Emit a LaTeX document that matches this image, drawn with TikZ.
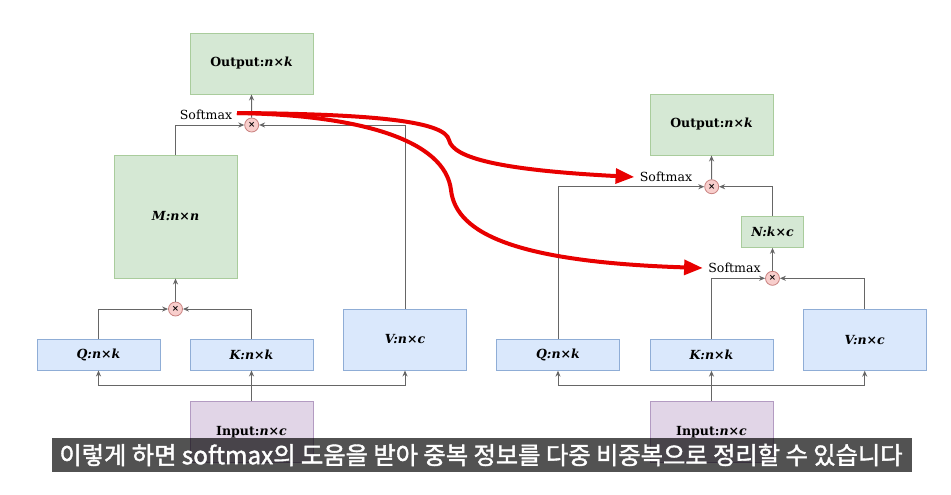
\documentclass[tikz,border=0pt]{standalone}
\usepackage{fontspec}
\usetikzlibrary{arrows.meta, positioning}
\setmainfont{DejaVu Serif}
\newfontfamily\krfont[FakeBold=1.6]{Noto Sans CJK KR}
\definecolor{attnGreenFill}{HTML}{D5E8D4}
\definecolor{attnGreenLine}{HTML}{A9CC9C}
\definecolor{attnBlueFill}{HTML}{DAE8FC}
\definecolor{attnBlueLine}{HTML}{8FADD6}
\definecolor{attnPurpleFill}{HTML}{E1D5E7}
\definecolor{attnPurpleLine}{HTML}{B39BC2}
\definecolor{attnRedFill}{HTML}{F8CECC}
\definecolor{attnRedLine}{HTML}{C98280}
\definecolor{attnWire}{HTML}{666666}
\definecolor{penRed}{HTML}{E80000}
\tikzset{
    attnBlock/.style={
        draw, line width=0.7pt, inner sep=0pt, align=center, font=\fontsize{9.4}{11}\selectfont\bfseries
    },
    attnGreen/.style={
        attnBlock, draw=attnGreenLine, fill=attnGreenFill
    },
    attnBlue/.style={
        attnBlock, draw=attnBlueLine, fill=attnBlueFill
    },
    attnPurple/.style={
        attnBlock, draw=attnPurpleLine, fill=attnPurpleFill
    },
    wideBox/.style={minimum width=92.25pt, minimum height=45.75pt},
    tallBox/.style={minimum width=92.25pt, minimum height=92.25pt},
    flatBox/.style={minimum width=92.25pt, minimum height=23.25pt},
    smallBox/.style={minimum width=46.2pt, minimum height=23pt},
    attnMul/.style={
        circle, draw=attnRedLine, fill=attnRedFill, line width=0.6pt, minimum size=10.5pt, inner sep=0pt, font=\fontsize{6.5}{7}\selectfont\bfseries
    },
    attnLabel/.style={
        font=\fontsize{9.4}{11}\selectfont, inner sep=0pt
    },
    attnArrow/.style={
        -{Stealth[length=4.5pt, width=3.8pt]}, line width=0.75pt, draw=attnWire
    },
    penArrow/.style={
        -{Triangle[length=14pt, width=11pt]}, line width=3pt, draw=penRed, color=penRed
    }
}

\begin{document}
\begin{tikzpicture}[x=0.75pt, y=-0.75pt]
    \useasboundingbox (0,0) rectangle (951,494);

    % ── LEFT: PLAIN SELF-ATTENTION
    \node[attnGreen, wideBox] (outA) at (251.5, 63.5) {Output:\textit{n×k}};
    \node[attnMul] (mulA) at (251.7, 125) {×};
    \node[attnLabel] (smA) at (206, 115) {Softmax};
    \node[attnGreen, tallBox] (mA) at (175.5, 216.5) {\textit{M:n×n}};
    \node[attnMul] (mulB) at (175.5, 309) {×};
    \node[attnBlue, flatBox] (qA) at (98.5, 354.5) {\textit{Q:n×k}};
    \node[attnBlue, flatBox] (kA) at (251.5, 354.5) {\textit{K:n×k}};
    \node[attnBlue, wideBox] (vA) at (405, 339.5) {\textit{V:n×c}};
    \node[attnPurple, wideBox] (inA) at (251.5, 432) {Input:\textit{n×c}};
    \coordinate (busA) at (251.5, 385.7);

    \draw[attnArrow] (mulA.north) -- (outA.south);
    \draw[attnArrow] (mA.north) |- (mulA.west);
    \draw[attnArrow] (vA.north) |- (mulA.east);
    \draw[attnArrow] (mulB.north) -- (mA.south);
    \draw[attnArrow] (qA.north) |- (mulB.west);
    \draw[attnArrow] (kA.north) |- (mulB.east);
    \draw[attnArrow] (inA.north) -- (kA.south);
    \draw[attnArrow] (busA) -| (qA.south);
    \draw[attnArrow] (busA) -| (vA.south);

    % ── RIGHT: FACTORISED ATTENTION
    \node[attnGreen, wideBox] (outB) at (711.5, 124.5) {Output:\textit{n×k}};
    \node[attnMul] (mulC) at (711.7, 186.7) {×};
    \node[attnLabel] (smB) at (666, 177) {Softmax};
    \node[attnGreen, smallBox] (nB) at (772.5, 232) {\textit{N:k×c}};
    \node[attnMul] (mulD) at (772.5, 278.3) {×};
    \node[attnLabel] (smC) at (734.5, 268) {Softmax};
    \node[attnBlue, flatBox] (qB) at (558, 354.7) {\textit{Q:n×k}};
    \node[attnBlue, flatBox] (kB) at (711.5, 354.7) {\textit{K:n×k}};
    \node[attnBlue, wideBox] (vB) at (864.7, 339.7) {\textit{V:n×c}};
    \node[attnPurple, wideBox] (inB) at (711.5, 432) {Input:\textit{n×c}};
    \coordinate (busB) at (711.5, 385.7);

    \draw[attnArrow] (mulC.north) -- (outB.south);
    \draw[attnArrow] (qB.north) |- (mulC.west);
    \draw[attnArrow] (nB.north) |- (mulC.east);
    \draw[attnArrow] (mulD.north) -- (nB.south);
    \draw[attnArrow] (kB.north) |- (mulD.west);
    \draw[attnArrow] (vB.north) |- (mulD.east);
    \draw[attnArrow] (inB.north) -- (kB.south);
    \draw[attnArrow] (busB) -| (qB.south);
    \draw[attnArrow] (busB) -| (vB.south);

    % ── RED PEN STROKES
    \coordinate (penStart) at (237, 113);
    \coordinate (penBendA) at (449, 140);
    \coordinate (penBendB) at (451, 190);
    \draw[penArrow] (penStart) .. controls (380, 114) and (445, 122) .. (penBendA)
        .. controls (453, 158) and (500, 170) .. ([xshift=-4pt]smB.west);
    \draw[penArrow] (penStart) .. controls (360, 115) and (445, 140) .. (penBendB)
        .. controls (456, 235) and (520, 262) .. ([xshift=-4pt]smC.west);

    % ── SUBTITLE
    \fill[black, opacity=0.68] (52, 438) rectangle (912, 472);
    \node[font=\krfont\fontsize{18.2}{20}\selectfont, text=white, inner sep=0pt] (subtitle) at (481, 455)
        {이렇게 하면 softmax의 도움을 받아 중복 정보를 다중 비중복으로 정리할 수 있습니다};
\end{tikzpicture}
\end{document}
